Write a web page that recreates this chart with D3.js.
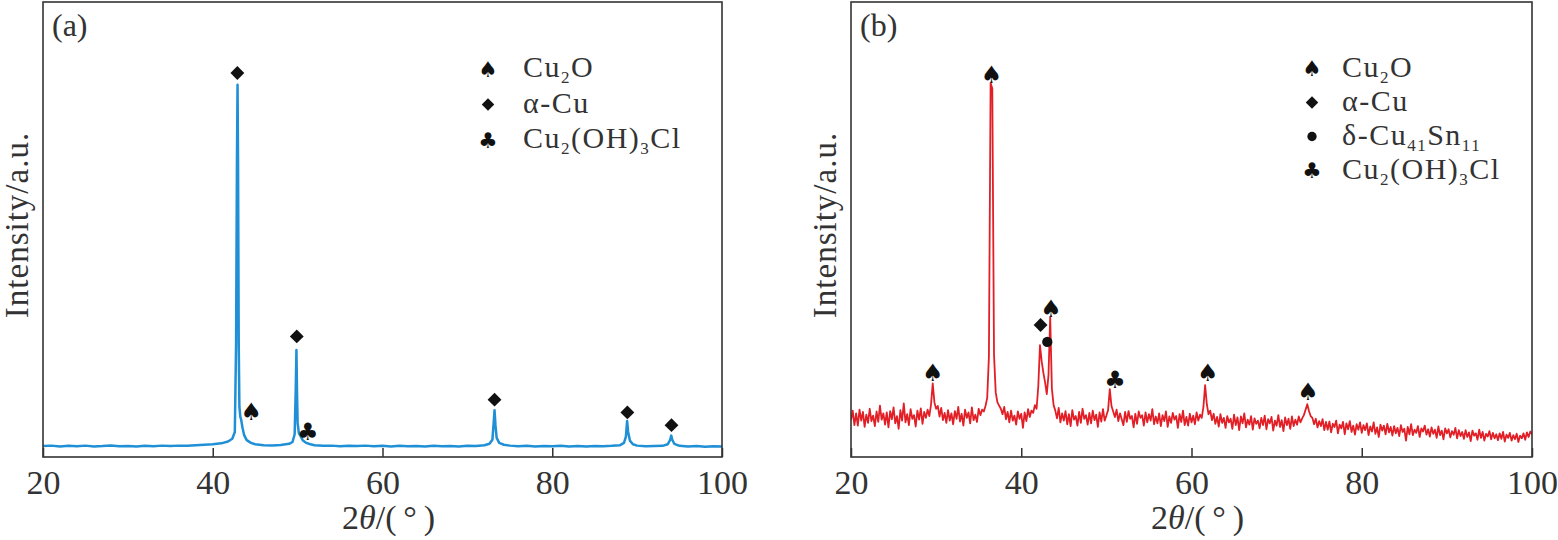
<!DOCTYPE html>
<html>
<head>
<meta charset="utf-8">
<script src="https://cdn.jsdelivr.net/npm/d3@7/dist/d3.min.js"></script>
<style>
    body { margin: 0; background: #fff; }
    svg { display: block; }
    .tick text { font-family: "Liberation Serif", serif; font-size: 34px; fill: #333; }
    .tick line { stroke: #333; stroke-width: 1.5; }
</style>
</head>
<body>
<div id="chart"></div>
<script>
// XRD patterns of the two samples
const xTicks = [20, 40, 60, 80, 100];

// (a) pattern as [2theta, intensity] pairs
const patternA = [
    [20, 2.4], [21, 2.5], [22, 2.3], [23, 2.45], [24, 2.35], [25, 2.5], [26, 2.3], [27, 2.4],
    [28, 2.55], [29, 2.35], [30, 2.4], [31, 2.3], [32, 2.45], [33, 2.35], [34, 2.5], [35, 2.4],
    [36, 2.5], [37, 2.45], [38, 2.6], [39, 2.7], [40, 2.8], [41, 3.0], [41.8, 3.4], [42.3, 4.0],
    [42.6, 5.5], [42.75, 25], [42.85, 65], [42.92, 81.8], [42.98, 65], [43.06, 25], [43.14, 11],
    [43.25, 8.8], [43.35, 8.2], [43.5, 6.5], [43.7, 4.8], [44.0, 3.7], [44.5, 3.1], [45, 2.8],
    [46, 2.6], [47, 2.55], [48, 2.65], [49, 2.9], [49.4, 3.3], [49.65, 5], [49.78, 15],
    [49.86, 23.5], [49.93, 14], [50.0, 7.5], [50.15, 5.2], [50.35, 4.6], [50.6, 3.7], [51, 3.1],
    [51.5, 2.8], [52, 2.6], [53, 2.45], [54, 2.5], [55, 2.35], [56, 2.45], [57, 2.4], [58, 2.5],
    [59, 2.35], [60, 2.45], [61, 2.3], [62, 2.45], [63, 2.35], [64, 2.4], [65, 2.3], [66, 2.45],
    [67, 2.35], [68, 2.4], [69, 2.3], [70, 2.45], [71, 2.4], [72, 2.6], [72.6, 2.9], [72.95, 3.8],
    [73.1, 7.5], [73.2, 10.3], [73.31, 7], [73.45, 4.2], [73.75, 3.1], [74.3, 2.7], [75, 2.5],
    [76, 2.35], [77, 2.45], [78, 2.3], [79, 2.4], [80, 2.35], [81, 2.45], [82, 2.3], [83, 2.4],
    [84, 2.3], [85, 2.4], [86, 2.35], [87, 2.45], [88, 2.6], [88.45, 3.1], [88.68, 4.5],
    [88.82, 7.9], [88.94, 5.5], [89.15, 3.6], [89.5, 2.8], [90, 2.5], [91, 2.35], [92, 2.4],
    [93, 2.45], [93.6, 2.8], [93.88, 3.7], [94.02, 4.7], [94.14, 3.8], [94.38, 2.9], [95, 2.45],
    [96, 2.3], [97, 2.4], [98, 2.25], [99, 2.35], [100, 2.3]
];

// (b) pattern: scan from 20 deg in 0.2 deg steps
const patternBStart = 20;
const patternBStep = 0.2;
const patternB = [
    8.1, 10.2, 7.0, 9.6, 6.9, 10.4, 8.0, 9.9, 6.6, 9.3, 7.5, 10.6, 7.9, 9.1, 6.8, 10.0, 7.7, 11.3, 8.2, 9.6,
    7.1, 9.8, 6.5, 10.1, 8.3, 10.9, 7.4, 9.0, 6.2, 10.3, 8.0, 11.8, 7.6, 9.4, 7.0, 10.5, 8.4, 9.2, 6.7, 10.2,
    8.2, 10.7, 7.3, 9.9, 8.6, 10.4, 9.0, 11.5, 16.2, 12.0, 10.6, 11.2, 8.9, 10.8, 8.1, 9.7, 7.5, 10.3, 8.0, 9.6,
    7.2, 10.1, 8.4, 11.0, 7.8, 9.5, 6.9, 10.4, 8.6, 9.8, 7.4, 10.9, 8.1, 9.3, 7.7, 10.6, 9.2, 10.4, 10.0, 11.2,
    13.0, 22.0, 82.2, 81.0, 22.5, 14.2, 12.0, 11.3, 10.6, 9.4, 11.0, 8.3, 9.9, 7.6, 10.2, 8.0, 9.1, 7.1, 10.0, 8.4,
    9.5, 6.4, 9.8, 7.9, 10.5, 8.8, 10.2, 9.7, 11.4, 10.6, 15.5, 24.6, 21.0, 18.5, 16.4, 13.8, 18.0, 30.8, 15.0, 11.4,
    10.2, 8.5, 10.8, 7.6, 9.6, 8.0, 10.1, 7.2, 9.4, 6.8, 10.3, 8.2, 9.0, 6.9, 9.9, 7.5, 10.6, 8.4, 9.2, 7.1,
    9.7, 7.4, 10.2, 8.1, 9.3, 6.6, 9.8, 7.8, 10.5, 8.0, 9.1, 10.3, 14.9, 11.2, 10.0, 8.8, 10.4, 7.9, 9.6, 8.3,
    7.0, 9.9, 7.7, 10.1, 8.4, 9.0, 6.5, 9.5, 7.3, 10.0, 8.6, 9.2, 6.9, 9.8, 7.6, 9.4, 8.0, 10.5, 7.2, 8.9,
    7.4, 9.6, 6.8, 9.2, 7.9, 10.0, 6.6, 8.9, 7.5, 9.7, 8.2, 9.0, 6.4, 9.4, 7.7, 10.2, 7.0, 8.8, 6.9, 9.5,
    7.6, 9.1, 7.2, 9.8, 8.0, 9.3, 8.6, 11.0, 15.8, 11.6, 9.4, 10.2, 8.1, 9.5, 7.3, 8.8, 6.7, 9.4, 7.5, 8.6,
    6.4, 9.0, 7.6, 8.4, 6.2, 9.3, 7.0, 8.7, 5.9, 8.9, 7.4, 9.6, 6.5, 8.2, 7.1, 9.0, 6.0, 8.5, 7.3, 8.0,
    6.3, 8.6, 7.0, 9.1, 6.1, 8.3, 7.4, 8.8, 5.8, 8.0, 6.9, 9.2, 6.6, 8.1, 5.7, 8.7, 7.0, 8.4, 6.2, 8.9,
    6.8, 8.2, 7.1, 8.9, 7.6, 8.5, 9.2, 10.4, 11.6, 10.1, 9.0, 8.6, 7.2, 8.4, 6.5, 7.9, 6.8, 8.3, 5.9, 7.7,
    6.0, 7.8, 5.4, 7.3, 6.6, 8.0, 5.2, 7.1, 6.3, 7.7, 5.0, 7.4, 6.1, 7.9, 5.5, 6.9, 4.9, 7.2, 6.0, 7.6,
    5.3, 7.0, 5.9, 7.4, 4.8, 6.7, 5.6, 7.6, 5.1, 6.5, 4.4, 7.1, 5.8, 6.9, 5.0, 7.3, 5.4, 6.6, 4.7, 6.8,
    5.2, 6.4, 4.6, 7.0, 5.5, 6.2, 3.6, 6.6, 5.0, 7.2, 4.8, 6.0, 5.3, 6.8, 4.4, 6.3, 5.6, 6.9, 4.9, 6.1,
    4.5, 6.5, 5.1, 6.0, 4.2, 6.7, 4.8, 5.8, 3.9, 6.3, 5.2, 6.1, 4.3, 5.7, 4.9, 6.4, 4.1, 5.9, 4.6, 5.5,
    4.0, 5.9, 4.4, 5.4, 3.5, 5.8, 4.7, 5.2, 3.8, 6.0, 4.2, 5.5, 3.6, 5.1, 4.5, 5.7, 3.9, 5.3, 4.1, 5.0,
    3.7, 5.2, 4.0, 5.5, 3.4, 4.9, 4.2, 5.3, 3.6, 4.8, 3.9, 5.1, 3.3, 4.7, 4.1, 5.2, 3.8, 5.4, 4.4, 5.6,
    5.0
];

// peak markers: [phase, 2theta, intensity where the symbol sits]
const markersA = [
    ["diamond", 42.9, 84.4], ["spade", 44.55, 9.8], ["diamond", 49.9, 26.5], ["club", 51.2, 5.6],
    ["diamond", 73.2, 12.6], ["diamond", 88.85, 9.8], ["diamond", 94.05, 7.0]
];
const markersB = [
    ["spade", 29.6, 18.5], ["spade", 36.5, 84], ["diamond", 42.27, 29], ["circle", 43.06, 25.3],
    ["spade", 43.5, 32.5], ["club", 51.0, 17], ["spade", 61.9, 18.5], ["spade", 73.7, 14.3]
];

// legends: [phase, label] (_{..} marks a subscript)
const legendA = [["spade", "Cu_{2}O"], ["diamond", "α-Cu"], ["club", "Cu_{2}(OH)_{3}Cl"]];
const legendB = [["spade", "Cu_{2}O"], ["diamond", "α-Cu"], ["circle", "δ-Cu_{41}Sn_{11}"], ["club", "Cu_{2}(OH)_{3}Cl"]];

const width = 1558, height = 540;
const serif = "'Liberation Serif', 'Times New Roman', serif";

const svg = d3.select("#chart")
    .append("svg")
    .attr("width", width)
    .attr("height", height)
    .attr("viewBox", [0, 0, width, height]);

svg.append("rect").attr("width", width).attr("height", height).attr("fill", "#fff");

// Draw one phase symbol centred on (cx, cy)
function drawSymbol(g, type, cx, cy, scale) {
    if (type === "spade" || type === "club") {
        g.append("text")
            .attr("x", cx)
            .attr("y", cy)
            .attr("text-anchor", "middle")
            .attr("dominant-baseline", "central")
            .style("font-family", "'DejaVu Sans', sans-serif")
            .style("font-size", (24 * scale) + "px")
            .attr("fill", "#111")
            .text(type === "spade" ? "\u2660" : "\u2663");
    } else if (type === "diamond") {
        g.append("path")
            .attr("d", d3.symbol(d3.symbolSquare, 96 * scale * scale)())
            .attr("transform", `translate(${cx},${cy}) rotate(45)`)
            .attr("fill", "#111");
    } else {
        g.append("path")
            .attr("d", d3.symbol(d3.symbolCircle, 84 * scale * scale)())
            .attr("transform", `translate(${cx},${cy})`)
            .attr("fill", "#111");
    }
}

// Text with _{...} subscripts
function addRichText(textSel, str) {
    const parts = str.split(/_\{([^}]*)\}/);
    let shifted = false;
    parts.forEach((p, i) => {
        if (!p) return;
        const isSub = i % 2 === 1;
        const t = textSel.append("tspan").text(p);
        if (isSub) {
            t.attr("dy", shifted ? 0 : 6).style("font-size", "17px");
            shifted = true;
        } else {
            if (shifted) t.attr("dy", -6);
            shifted = false;
        }
    });
}

function drawPanel(opts) {
    const x = d3.scaleLinear().domain([20, 100]).range([opts.left, opts.right]);
    const y = d3.scaleLinear().domain([0, 100]).range([457, 2]);
    const g = svg.append("g");

    const clipId = "clip-" + opts.name;
    svg.append("clipPath").attr("id", clipId)
        .append("rect")
        .attr("x", opts.left).attr("y", 2)
        .attr("width", opts.right - opts.left).attr("height", 455);

    const line = d3.line()
        .x(d => x(d[0]))
        .y(d => y(d[1]));

    g.append("path")
        .datum(opts.data)
        .attr("clip-path", `url(#${clipId})`)
        .attr("fill", "none")
        .attr("stroke", opts.color)
        .attr("stroke-width", opts.lineWidth)
        .attr("stroke-linejoin", "round")
        .attr("d", line);

    // frame
    g.append("rect")
        .attr("x", opts.left).attr("y", 2)
        .attr("width", opts.right - opts.left).attr("height", 455)
        .attr("fill", "none")
        .attr("stroke", "#333")
        .attr("stroke-width", 1.6);

    // bottom axis with inward ticks
    const axis = g.append("g")
        .attr("transform", "translate(0,457)")
        .call(d3.axisBottom(x)
            .tickValues(xTicks)
            .tickSizeInner(-9)
            .tickSizeOuter(0)
            .tickPadding(13)
            .tickFormat(d3.format("d")));
    axis.select(".domain").remove();

    // axis titles
    const xt = g.append("text")
        .attr("x", (opts.left + opts.right) / 2 + 6)
        .attr("y", 529)
        .attr("text-anchor", "middle")
        .style("font-family", serif)
        .style("font-size", "34px")
        .attr("fill", "#333");
    xt.append("tspan").text("2");
    xt.append("tspan").style("font-style", "italic").text("θ");
    xt.append("tspan").text("/(\u2009°\u2009)");

    g.append("text")
        .attr("transform", `translate(${opts.left - 15},225) rotate(-90)`)
        .attr("text-anchor", "middle")
        .style("font-family", serif)
        .style("font-size", "33px")
        .style("letter-spacing", "1px")
        .attr("fill", "#333")
        .text("Intensity/a.u.");

    g.append("text")
        .attr("x", opts.left + 9)
        .attr("y", 36)
        .style("font-family", serif)
        .style("font-size", "32px")
        .attr("fill", "#333")
        .text(`(${opts.name})`);

    // peak markers
    const mg = g.append("g");
    opts.markers.forEach(m => drawSymbol(mg, m[0], x(m[1]), y(m[2]), 1));

    // legend
    const lg = g.append("g");
    opts.legend.forEach((item, i) => {
        const by = opts.legendY + i * opts.legendStep;
        drawSymbol(lg, item[0], opts.legendX, by - 8, 0.9);
        const t = lg.append("text")
            .attr("x", opts.legendX + opts.legendGap)
            .attr("y", by)
            .style("font-family", serif)
            .style("font-size", "30px")
            .style("letter-spacing", "1.5px")
            .attr("fill", "#333");
        addRichText(t, item[1]);
    });
}

drawPanel({
    name: "a", left: 43, right: 722,
    data: patternA, color: "#1f8fd6", lineWidth: 2.5,
    markers: markersA, legend: legendA,
    legendX: 488, legendGap: 35, legendY: 77, legendStep: 35.5
});

drawPanel({
    name: "b", left: 851, right: 1532,
    data: patternB.map((v, i) => [patternBStart + i * patternBStep, v]),
    color: "#e21f26", lineWidth: 1.8,
    markers: markersB, legend: legendB,
    legendX: 1312, legendGap: 30, legendY: 76.5, legendStep: 34
});
</script>
</body>
</html>
